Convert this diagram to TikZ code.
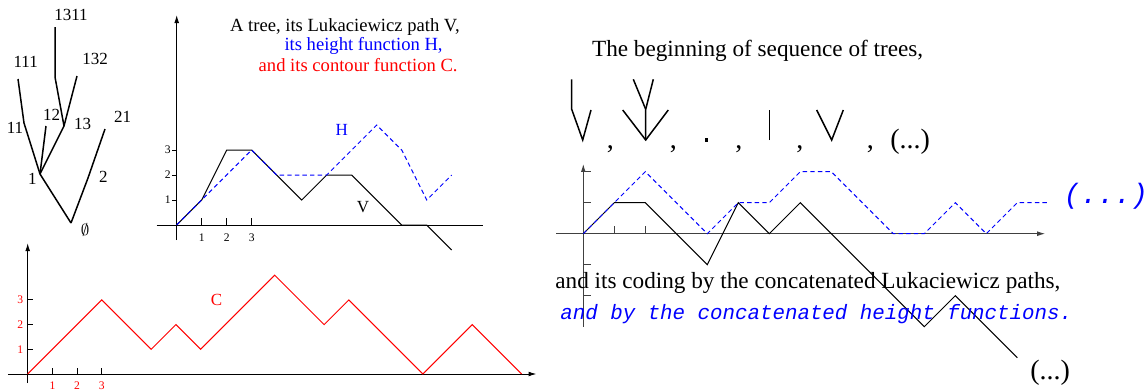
\documentclass[tikz,border=0pt]{standalone}
\usepackage{fontspec}
\setmainfont{Liberation Serif}
\setmonofont{Liberation Mono}
\usetikzlibrary{arrows.meta}

\begin{document}
\begin{tikzpicture}[x=0.5pt, y=-0.5pt,
  edge/.style={line width=0.75pt},
  ax/.style={line width=0.5pt},
  axarr/.style={ax, -{Latex[length=4pt,width=2.4pt]}},
  vpath/.style={line width=0.5pt},
  hpath/.style={line width=0.5pt, blue, dash pattern=on 2.2pt off 1.6pt},
  cpath/.style={line width=0.5pt, red},
  lbl/.style={font=\fontsize{8.5}{10}\selectfont, inner sep=0pt},
  ttl/.style={font=\fontsize{9.3}{11}\selectfont, inner sep=0pt, anchor=base east},
  tk/.style={font=\fontsize{5.8}{6}\selectfont, inner sep=0pt},
  txt/.style={font=\fontsize{11.6}{13}\selectfont, inner sep=0pt, anchor=base west},
  big/.style={font=\fontsize{14}{16}\selectfont, inner sep=0pt, anchor=base west},
  dot/.style={fill, rectangle, inner sep=0pt, minimum size=1.6pt},
]
  \useasboundingbox (0,0) rectangle (1145,391);

  % the tree
  \coordinate (t0) at (71,223);
  \coordinate (t1) at (40,174);
  \coordinate (t11) at (24,123);
  \coordinate (t111) at (18,79);
  \coordinate (t12) at (46,126);
  \coordinate (t13) at (64,126);
  \coordinate (t131) at (55,77);
  \coordinate (t1311) at (55,27);
  \coordinate (t132) at (77,76);
  \coordinate (t2) at (88,178);
  \coordinate (t21) at (105,129);
  \draw[edge] (t0) -- (t1) -- (t11) -- (t111);
  \draw[edge] (t1) -- (t12);
  \draw[edge] (t1) -- (t13) -- (t131) -- (t1311);
  \draw[edge] (t13) -- (t132);
  \draw[edge] (t0) -- (t2) -- (t21);
  \node[lbl] (n0) at (85,230) {$\emptyset$};
  \node[lbl] (n1) at (32.3,179.3) {1};
  \node[lbl] (n2) at (103.3,176.7) {2};
  \node[lbl] (n11) at (15,128) {11};
  \node[lbl] (n12) at (51.7,115) {12};
  \node[lbl] (n13) at (82.7,124) {13};
  \node[lbl] (n21) at (122.7,117.3) {21};
  \node[lbl] (n111) at (25.7,61.7) {111};
  \node[lbl] (n132) at (95,59.3) {132};
  \node[lbl] (n1311) at (71,15) {1311};

  % Lukaciewicz path and height function
  \node[ttl] (ttl1) at (460,31.7) {A tree, its Lukaciewicz path V,};
  \node[ttl, blue] (ttl2) at (443,50) {its height function H,};
  \node[ttl, red] (ttl3) at (458,71.7) {and its contour function C.};
  \begin{scope}[shift={(176.7,225)}, x=12.5pt, y=12.5pt]
    \draw[axarr] (0,-0.6) -- (0,8.4);
    \draw[ax] (-0.8,0) -- (12.25,0);
    \foreach \k in {1,2,3} {
      \draw[ax] (\k,0) -- (\k,0.3);
      \node[tk] at (\k,-0.52) {\k};
      \draw[ax] (-0.18,\k) -- (0,\k);
      \node[tk] at (-0.36,\k) {\k};
    }
    \draw[vpath] (0,0) -- (1,1) -- (2,3) -- (3,3) -- (4,2) -- (5,1) -- (6,2) -- (7,2)
      -- (8,1) -- (9,0) -- (10,0) -- (11,-1);
    \draw[hpath] (0,0) -- (1,1) -- (2,2) -- (3,3) -- (4,2) -- (6,2) -- (8,4) -- (9,3)
      -- (10,1) -- (11,2);
    \node[lbl, blue] (hl) at (6.6,3.8) {H};
    \node[lbl] (vl) at (7.45,0.72) {V};
  \end{scope}

  % contour function
  \begin{scope}[shift={(27.7,374)}, x=12.35pt, y=12.35pt]
    \draw[axarr] (0,-0.37) -- (0,5.3);
    \draw[axarr] (-0.8,0) -- (20.6,0);
    \foreach \k in {1,2,3} {
      \draw[ax] (\k,0) -- (\k,0.26);
      \node[tk, red] at (\k,-0.48) {\k};
      \draw[ax] (0,\k) -- (0.22,\k);
      \node[tk, red] at (-0.3,\k) {\k};
    }
    \draw[cpath] (0,0) -- (3,3) -- (5,1) -- (6,2) -- (7,1) -- (10,4) -- (12,2) -- (13,3)
      -- (16,0) -- (18,2) -- (20,0);
    \node[lbl, red] (cl) at (7.65,3) {C};
  \end{scope}

  % sequence of trees
  \node[txt] (seq) at (591.7,56) {The beginning of sequence of trees,};
  \coordinate (a0) at (582.7,140);
  \coordinate (a1) at (571.7,109.3);
  \coordinate (a11) at (571.7,79.3);
  \coordinate (a2) at (591,110);
  \draw[edge] (a11) -- (a1) -- (a0) -- (a2);
  \coordinate (b0) at (645.7,140);
  \coordinate (b1) at (622.7,110);
  \coordinate (b2) at (645.7,109.3);
  \coordinate (b3) at (668.3,110);
  \coordinate (b21) at (633.3,79.3);
  \coordinate (b22) at (653.3,79.3);
  \draw[edge] (b1) -- (b0) -- (b3);
  \draw[edge] (b0) -- (b2) -- (b21);
  \draw[edge] (b2) -- (b22);
  \node[dot] (c0) at (706.7,140) {};
  \coordinate (d0) at (769.3,140);
  \coordinate (d1) at (769.3,110);
  \draw[edge] (d0) -- (d1);
  \coordinate (e0) at (831.7,140);
  \coordinate (e1) at (816.7,110);
  \coordinate (e2) at (843.3,110);
  \draw[edge] (e1) -- (e0) -- (e2);
  \foreach \cx in {606.5,669.5,735,796,866.5}
    \node[big] at (\cx,148) {,};
  \node[big] (etc1) at (890,148) {(...)};

  % concatenated paths
  \begin{scope}[shift={(583.3,233.7)}, x=15.5pt, y=15.5pt]
    \draw[axarr, black!75] (0,-3) -- (0,2.25);
    \draw[axarr, black!75] (-0.88,0) -- (14.9,0);
    \foreach \k in {-2,-1,1,2}
      \draw[ax, black!75] (0,\k) -- (0.24,\k);
    \foreach \k in {1,2}
      \draw[ax, black!75] (\k,0) -- (\k,0.25);
    \draw[vpath] (0,0) -- (1,1) -- (2,1) -- (4,-1) -- (5,1) -- (6,0) -- (7,1) -- (11,-3)
      -- (12,-2) -- (14,-4);
    \draw[hpath] (0,0) -- (1,1) -- (2,2) -- (4,0) -- (5,1) -- (6,1) -- (7,2) -- (8,2)
      -- (10,0) -- (11,0) -- (12,1) -- (13,0) -- (14,1) -- (15,1);
  \end{scope}
  \node[big, blue, font=\fontsize{14}{16}\selectfont\ttfamily\itshape] (etc2) at (1063.5,203) {(...)};
  \node[txt] (cod) at (555,288) {and its coding by the concatenated Lukaciewicz paths,};
  \node[txt, blue, font=\fontsize{10.4}{12}\selectfont\ttfamily\itshape] (cod2) at (560,319)
    {and by the concatenated height functions.};
  \node[big] (etc3) at (1030,379) {(...)};
\end{tikzpicture}
\end{document}
